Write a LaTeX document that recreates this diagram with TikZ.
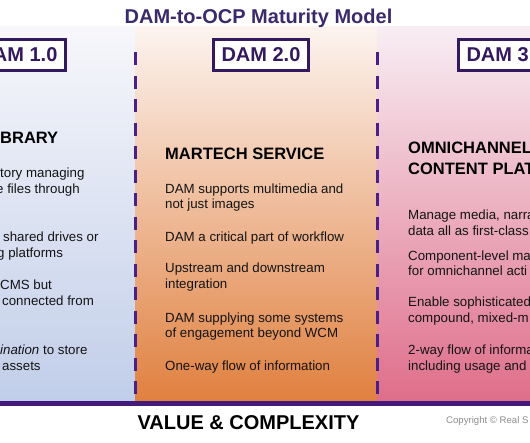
\documentclass[tikz,border=0pt]{standalone}
\usepackage{fontspec}
\setmainfont{Liberation Sans}
\usepackage{tikz}
\usetikzlibrary{positioning}
\definecolor{ttlpurple}{HTML}{3B2A6B}
\definecolor{boxpurple}{HTML}{35195F}
\definecolor{dashpurple}{HTML}{4A1F86}
\definecolor{rulepurple}{HTML}{43197A}
\definecolor{libtop}{HTML}{F7F7FB}
\definecolor{libmid}{HTML}{DDE3F2}
\definecolor{libbot}{HTML}{C1CEE9}
\definecolor{mktop}{HTML}{FCF4F0}
\definecolor{mkmid}{HTML}{F1B58E}
\definecolor{mkbot}{HTML}{E0803F}
\definecolor{octop}{HTML}{F8EEF4}
\definecolor{ocmid}{HTML}{EBB1C5}
\definecolor{ocbot}{HTML}{DF6E8A}
\definecolor{copygray}{gray}{0.55}
\newcommand{\titlefont}{\fontsize{20}{24}\selectfont\bfseries}
\newcommand{\headfont}{\fontsize{16.5}{20}\selectfont\bfseries}
\newcommand{\itemfont}{\fontsize{13.3}{16}\selectfont}
\tikzset{
  lvlbox/.style   = {draw=boxpurple, line width=2.6pt, fill=white,
                     minimum width=95.4pt, minimum height=31.4pt,
                     inner sep=0pt, font=\titlefont, text=boxpurple},
  colhead/.style  = {anchor=base west, inner sep=0pt, font=\headfont},
  colline/.style  = {anchor=base west, inner sep=0pt, font=\itemfont,
                     text=black!92},
  divider/.style  = {draw=dashpurple, line width=3.4pt,
                     dash pattern=on 13pt off 10.5pt},
  axisrule/.style = {draw=rulepurple, line width=5pt},
}

\begin{document}
\begin{tikzpicture}[x=1pt,y=-1pt]
  \clip (0,0) rectangle (530,442);
  \fill[white] (0,0) rectangle (530,442);

  % column backgrounds
  \shade[top color=libtop, middle color=libmid, bottom color=libbot]
    (-10,26) rectangle (135.5,401);
  \shade[top color=mktop, middle color=mkmid, bottom color=mkbot]
    (135.5,26) rectangle (377.5,401);
  \shade[top color=octop, middle color=ocmid, bottom color=ocbot]
    (377.5,26) rectangle (540,401);

  % title
  \node[anchor=base, inner sep=0pt, font=\titlefont, text=ttlpurple]
    (title) at (258.5,23) {DAM-to-OCP Maturity Model};

  % stage boxes
  \node[lvlbox] (dam2) at (261,55) {DAM 2.0};
  \node[lvlbox, left=145pt of dam2]  (dam1) {DAM 1.0};
  \node[lvlbox, right=147pt of dam2] (dam3) {DAM 3.0};

  % dividers
  \coordinate (sepa) at (135.5,52);  \coordinate (sepaend) at (135.5,401);
  \coordinate (sepb) at (377.5,52);  \coordinate (sepbend) at (377.5,401);
  \draw[divider] (sepa) -- (sepaend);
  \draw[divider] (sepb) -- (sepbend);

  % DAM 1.0 column
  \node[colhead] (libhead) at (0,143) {BRARY};
  \foreach \xx/\yy/\txt [count=\i] in {0/177/{tory managing},
      -4/193/{e files through}, 3/241/{shared drives or},
      -3/257/{g platforms}, 0/289/{CMS but}, 2/305/{connected from},
      0/354/{\textit{ination} to store}, 2/370/{assets}}
    \node[colline] (lib\i) at (\xx,\yy) {\txt};

  % DAM 2.0 column
  \node[colhead] (mkhead) at (165,159) {MARTECH SERVICE};
  \foreach \yy/\txt [count=\i] in {193/{DAM supports multimedia and},
      208/{not just images}, 241/{DAM a critical part of workflow},
      272/{Upstream and downstream}, 288/{integration},
      322/{DAM supplying some systems}, 337/{of engagement beyond WCM},
      370/{One-way flow of information}}
    \node[colline] (mk\i) at (165,\yy) {\txt};

  % DAM 3.0 column
  \node[colhead] (ochead) at (408,153) {OMNICHANNEL};
  \node[colhead] (ochead2) at (408,174) {CONTENT PLAT};
  \foreach \yy/\txt [count=\i] in {219/{Manage media, narra},
      235/{data all as first-class}, 260/{Component-level ma},
      275/{for omnichannel acti}, 306/{Enable sophisticated},
      322/{compound, mixed-m}, 354/{2-way flow of informa},
      370/{including usage and}}
    \node[colline] (oc\i) at (408,\yy) {\txt};

  % axis
  \coordinate (axisl) at (0,403);  \coordinate (axisr) at (530,403);
  \draw[axisrule] (axisl) -- (axisr);
  \node[anchor=base, inner sep=0pt, font=\titlefont] (axislab)
    at (248.5,429) {VALUE \& COMPLEXITY};
  \node[anchor=base west, inner sep=0pt, font=\fontsize{9.6}{11}\selectfont,
        text=copygray] (copy) at (446,423.5) {Copyright © Real S};
\end{tikzpicture}
\end{document}
